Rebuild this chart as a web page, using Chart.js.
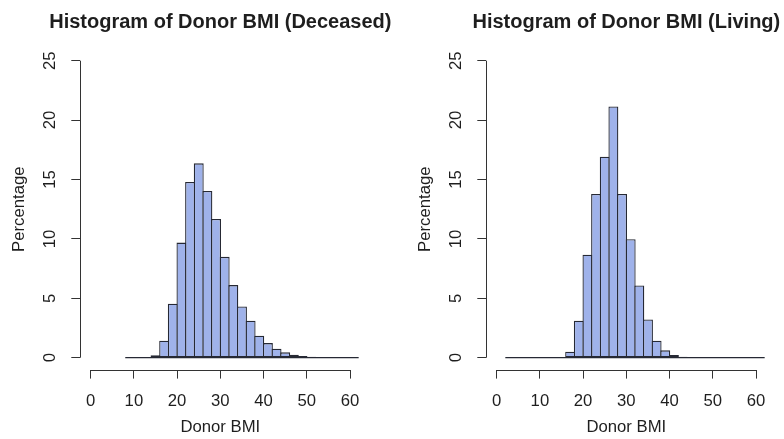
<!DOCTYPE html>
<html><head><meta charset="utf-8">
<script src="https://cdn.jsdelivr.net/npm/chart.js@4/dist/chart.umd.min.js"></script>
<style>
html,body{margin:0;padding:0;background:#fff;overflow:hidden;width:784px;height:439px;}
.panel{position:absolute;top:0;height:439px;}
#p1{left:0;width:392px;}
#p2{left:406px;width:378px;}
canvas{display:block;}
</style></head><body>
<div class="panel" id="p1"><canvas id="c1" width="392" height="439"></canvas></div>
<div class="panel" id="p2"><canvas id="c2" width="378" height="439"></canvas></div>
<script>
// ---- data (percent of donors per 2-unit BMI bin; bins given by lower edge) ----
const binWidth = 2;
const deceasedBinStarts = [8,10,12,14,16,18,20,22,24,26,28,30,32,34,36,38,40,42,44,46,48,50,52,54,56,58,60];
const deceasedPercent   = [0,0,0.02,0.2,1.43,4.54,9.69,14.79,16.36,14.03,11.68,8.49,6.11,4.31,3.11,1.85,1.23,0.76,0.45,0.25,0.14,0.08,0.04,0.02,0.01,0.01,0];
const livingBinStarts = [2,4,6,8,10,12,14,16,18,20,22,24,26,28,30,32,34,36,38,40,42,44,46,48,50,52,54,56,58,60];
const livingPercent   = [0,0,0,0,0,0.01,0.06,0.5,3.11,8.66,13.78,16.92,21.15,13.78,9.97,6.08,3.22,1.43,0.62,0.22,0.08,0.03,0.01,0,0,0,0,0,0,0];
const xTickLabels = [0,10,20,30,40,50,60];
const yTickLabels = [0,5,10,15,20,25];
const chartTitles = ['Histogram of Donor BMI (Deceased)', 'Histogram of Donor BMI (Living)'];
const xAxisTitle = 'Donor BMI';
const yAxisTitle = 'Percentage';

const FONT = '"Liberation Sans", Arial, Helvetica, sans-serif';
const TEXT = '#1e1e1e';
const AXIS = '#333333';
const FILL = '#9fb2ea';
const EDGE = '#262934';

const rStyle = {
  id: 'rStyle',
  afterDraw(chart, args, opts) {
    const {ctx, chartArea, scales: {x, y}} = chart;
    ctx.save();
    ctx.strokeStyle = AXIS; ctx.lineWidth = 1;
    ctx.beginPath();
    const ax = Math.round(chartArea.left) + 0.5;
    ctx.moveTo(ax, y.getPixelForValue(yTickLabels[0]));
    ctx.lineTo(ax, y.getPixelForValue(yTickLabels[yTickLabels.length - 1]));
    const ay = Math.round(chartArea.bottom) + 0.5;
    ctx.moveTo(x.getPixelForValue(xTickLabels[0]), ay);
    ctx.lineTo(x.getPixelForValue(xTickLabels[xTickLabels.length - 1]), ay);
    ctx.stroke();
    ctx.fillStyle = TEXT;
    ctx.font = '16.7px ' + FONT;
    ctx.textAlign = 'center'; ctx.textBaseline = 'alphabetic';
    yTickLabels.forEach(v => {
      ctx.save();
      ctx.translate(chartArea.left - 25, y.getPixelForValue(v));
      ctx.rotate(-Math.PI / 2);
      ctx.fillText(String(v), 0, 0);
      ctx.restore();
    });
    ctx.font = 'bold 20px ' + FONT;
    ctx.fillText(opts.title, (chartArea.left + chartArea.right) / 2, 27.6);
    ctx.restore();
  }
};

function makeChart(canvasId, starts, values, title, padRight) {
  const bars = starts.map((s, i) => ({x: s + binWidth / 2, y: values[i]}));
  const baseline = [{x: starts[0], y: 0}, {x: starts[starts.length - 1] + binWidth, y: 0}];
  return new Chart(document.getElementById(canvasId), {
    type: 'bar',
    data: {
      datasets: [
        {type: 'bar', data: bars, backgroundColor: FILL, borderColor: EDGE, borderWidth: 1.3,
         borderSkipped: false, barPercentage: 1.15, categoryPercentage: 1, order: 1},
        {type: 'line', data: baseline, borderColor: EDGE, borderWidth: 1.2, pointRadius: 0, order: 0}
      ]
    },
    options: {
      responsive: false, animation: false, devicePixelRatio: 1,
      layout: {padding: {top: 48.8, right: padRight, bottom: 0, left: 0}},
      plugins: {legend: {display: false}, tooltip: {enabled: false}, title: {display: false},
                rStyle: {title: title}},
      scales: {
        x: {
          type: 'linear', min: -2.4, max: 62.4, bounds: 'data', offset: false,
          afterBuildTicks: s => { s.ticks = xTickLabels.map(v => ({value: v})); },
          afterFit: s => { s.height = 69.4; },
          border: {display: false},
          grid: {display: true, offset: false, drawOnChartArea: false, drawTicks: true, tickLength: 9, color: AXIS, lineWidth: 1},
          ticks: {font: {family: FONT, size: 16.7}, color: TEXT, padding: 13, maxRotation: 0, autoSkip: false},
          title: {display: true, text: xAxisTitle, font: {family: FONT, size: 16.7}, color: TEXT, padding: {top: 0, bottom: 1.2}}
        },
        y: {
          type: 'linear', min: -1, max: 26, bounds: 'data',
          afterBuildTicks: s => { s.ticks = yTickLabels.map(v => ({value: v})); },
          afterFit: s => { s.width = 80.3; },
          border: {display: false},
          grid: {display: true, drawOnChartArea: false, drawTicks: true, tickLength: 9, color: AXIS, lineWidth: 1},
          ticks: {display: false},
          title: {display: true, text: yAxisTitle, font: {family: FONT, size: 16.7}, color: TEXT, padding: {top: 9.3, bottom: 0}}
        }
      }
    },
    plugins: [rStyle]
  });
}

makeChart('c1', deceasedBinStarts, deceasedPercent, chartTitles[0], 31.6);
makeChart('c2', livingBinStarts, livingPercent, chartTitles[1], 17.6);
</script>
</body></html>
